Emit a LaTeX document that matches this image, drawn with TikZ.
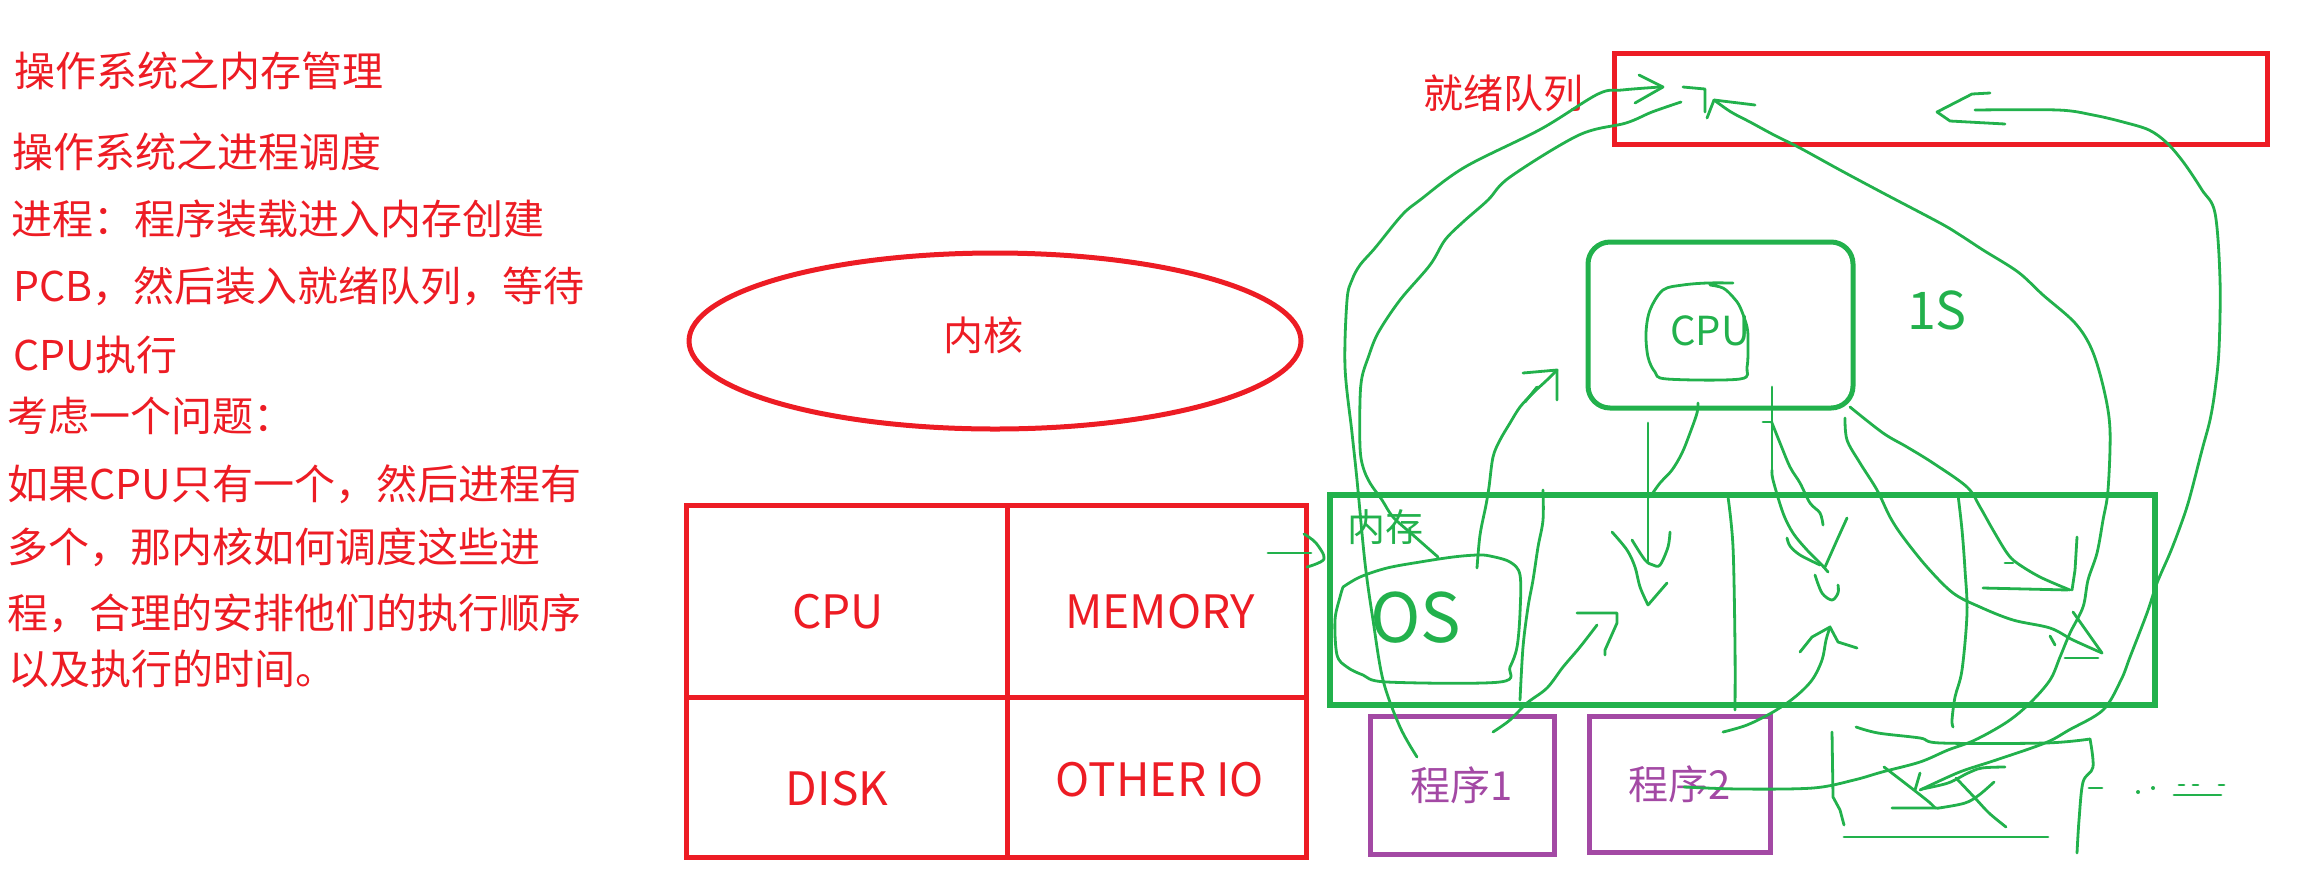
\documentclass[tikz,border=0pt]{standalone}
\usepackage{fontspec}
\setmainfont{Noto Sans CJK SC}
\usetikzlibrary{shapes.geometric, positioning}

\definecolor{pRed}{HTML}{ED1C24}
\definecolor{pGreen}{HTML}{22B14C}
\definecolor{pPurple}{HTML}{A349A4}

\begin{document}
\begin{tikzpicture}[x=0.5pt, y=-0.5pt,
  note/.style={anchor=west, inner sep=0pt, text=pRed, text height=18pt, text depth=2.5pt,
    font=\fontsize{20.5}{24}\selectfont},
  redbox/.style={draw=pRed, line width=2.5pt, inner sep=0pt},
  redtxt/.style={text=pRed, inner sep=0pt, font=\fontsize{23}{26}\selectfont},
  greenbox/.style={draw=pGreen, line width=3pt, inner sep=0pt},
  progbox/.style={draw=pPurple, line width=2.5pt, inner sep=0pt, text=pPurple, font=\fontsize{20}{24}\selectfont},
  greentxt/.style={text=pGreen, inner sep=0pt},
  scribble/.style={draw=pGreen, line width=1.4pt, line cap=round, line join=round},
  sketch/.style={smooth, tension=0.55}]

\useasboundingbox (0,0) rectangle (2322,885);

% notes on the left
\node[note] (n1) at (14,71) {操作系统之内存管理};
\node[note] (n2) at (12,152) {操作系统之进程调度};
\node[note] (n3) at (11,219) {进程：程序装载进入内存创建};
\node[note] (n4) at (13,286) {PCB，然后装入就绪队列，等待};
\node[note] (n5) at (13,355) {CPU执行};
\node[note] (n6) at (7,416) {考虑一个问题：};
\node[note] (n7) at (7,484) {如果CPU只有一个，然后进程有};
\node[note] (n8) at (7,547) {多个，那内核如何调度这些进};
\node[note] (n9) at (7,613) {程，合理的安排他们的执行顺序};
\node[note] (n10) at (8,669) {以及执行的时间。};

% kernel and hardware
\node[ellipse, draw=pRed, line width=2.5pt, minimum width=306pt, minimum height=88pt] (kernel) at (995,341) {};
\node[text=pRed, inner sep=0pt, font=\fontsize{20}{24}\selectfont] (kernelTag) at (983,335) {内核};

\node[redbox, minimum width=160.5pt, minimum height=96pt] (hwcpu) at (846.5,601) {};
\node[redbox, minimum width=149.5pt, minimum height=96pt] (hwmem) at (1156.5,601) {};
\node[redbox, minimum width=160.5pt, minimum height=80pt] (hwdisk) at (846.5,777) {};
\node[redbox, minimum width=149.5pt, minimum height=80pt] (hwio) at (1156.5,777) {};
\node[redtxt] (hwcpuTag) at (838,612) {CPU};
\node[redtxt] (hwmemTag) at (1160,612) {MEMORY};
\node[redtxt] (hwdiskTag) at (837,789) {DISK};
\node[redtxt] (hwioTag) at (1160,780) {OTHER IO};

% ready queue, cpu, memory, programs
\node[draw=pRed, line width=2.5pt, minimum width=326.5pt, minimum height=45.5pt] (ready) at (1940.5,98.5) {};
\node[text=pRed, inner sep=0pt, font=\fontsize{20}{24}\selectfont, left=14pt of ready, yshift=2.75pt] (readyTag) {就绪队列};

\node[greenbox, line width=2.5pt, rounded corners=11pt, minimum width=132.5pt, minimum height=83pt] (cpuBox) at (1720.5,325) {};
\node[greentxt, font=\fontsize{20}{24}\selectfont] (cpuTag) at (1710,331) {CPU};
\node[greentxt, font=\fontsize{26}{30}\selectfont] (sliceTag) at (1937,310) {1S};

\node[greenbox, minimum width=412.5pt, minimum height=105pt] (mem) at (1742.5,600) {};
\node[greentxt, font=\fontsize{19}{22}\selectfont] (memTag) at (1385,527) {内存};
\node[greentxt, font=\fontsize{34}{38}\selectfont] (osTag) at (1416,618) {OS};

\node[progbox, minimum width=92pt, minimum height=69pt] (prog1) at (1462,785) {程序1};
\node[progbox, minimum width=90.5pt, minimum height=68pt] (prog2) at (1679.5,784) {程序2};

% hand strokes
\draw[scribble] plot[sketch] coordinates {(1733,283) (1707,283) (1683,285) (1663,290) (1650,310) (1646,333) (1648,357) (1655,372) (1667,379) (1740,379) (1747,367) (1748,343) (1747,327) (1740,307) (1733,297) (1723,288) (1710,285)};
\draw[scribble] plot[sketch] coordinates {(1343,587) (1360,577) (1387,568) (1420,562) (1453,557) (1477,555) (1490,556) (1510,562) (1520,575) (1520,613) (1517,647) (1510,667) (1500,682) (1387,682) (1363,675) (1347,667) (1337,655) (1335,620) (1340,597) (1343,587)};

\draw[scribble] (1268,553) -- (1311,553);
\draw[scribble] plot[sketch] coordinates {(1304,534) (1316,543) (1324,559) (1307,567)};

\draw[scribble] plot[sketch] coordinates {(1543,490) (1543,520) (1538,547) (1533,580) (1528,607) (1523,647) (1520,700)};
\draw[scribble] plot[sketch] coordinates {(1728,497) (1733,547) (1735,647) (1735,710)};
\draw[scribble] plot[sketch] coordinates {(1958,495) (1962,530) (1965,570) (1967,613) (1962,670) (1955,697) (1952,720) (1953,727)};

\draw[scribble] plot[sketch] coordinates {(1417,757) (1400,727) (1383,680) (1373,620) (1365,563) (1357,480) (1352,433) (1345,367) (1347,300) (1352,280) (1360,265) (1375,248) (1402,215) (1420,200) (1465,167) (1541,129) (1598,94) (1622,90) (1660,87)};
\draw[scribble] (1639,75) -- (1663,87) -- (1635,103);

\draw[scribble] plot[sketch] coordinates {(1438,557) (1413,535) (1393,517) (1382,500) (1370,483) (1363,467) (1360,447) (1360,400) (1362,377) (1368,358) (1378,333) (1400,300) (1430,265) (1445,240) (1463,222) (1488,200) (1510,177) (1579,135) (1626,123) (1652,112) (1681,102)};
\draw[scribble] (1683,87) -- (1705,89) -- (1705,112);

\draw[scribble] plot[sketch] coordinates {(1684,787) (1740,789) (1813,788) (1854,780) (1882,772) (1920,762) (1948,750) (1975,740) (2007,722) (2030,703) (2050,680) (2060,657) (2070,633) (2083,607) (2088,580) (2097,553) (2103,520) (2108,490) (2110,430) (2104,390) (2092,350) (2075,323) (2043,295) (2018,272) (1983,250) (1960,235) (1940,223) (1883,193) (1840,170) (1800,148) (1774,135) (1750,122) (1731,112) (1714,100)};
\draw[scribble] (1707,118) -- (1714,100) -- (1755,105);

\draw[scribble] plot[sketch] coordinates {(1920,790) (1948,777) (1965,770) (1996,760) (2045,743) (2069,730) (2103,710) (2121,680) (2130,657) (2147,613) (2157,583) (2170,553) (2180,527) (2189,500) (2202,450) (2210,420) (2215,390) (2219,349) (2220,280) (2215,213) (2202,190) (2184,163) (2167,143) (2149,130) (2123,122) (2093,115) (2058,110) (1975,110)};
\draw[scribble] (1990,93) -- (1972,94) -- (1937,112) -- (1950,121) -- (2005,124);

\draw[scribble] plot[sketch] coordinates {(1850,407) (1883,433) (1907,447) (1933,463) (1967,487) (1980,507) (1993,530) (2007,553) (2017,563) (2040,577) (2070,590)};
\draw[scribble] (2077,537) -- (2075,570) -- (2072,590);
\draw[scribble] (1983,588) -- (2068,590);
\draw[scribble] (2005,563) -- (2013,563);

\draw[scribble] plot[sketch] coordinates {(1845,418) (1847,440) (1860,463) (1877,490) (1890,517) (1903,537) (1927,567) (1953,593) (1980,607) (2013,620) (2050,628) (2073,640) (2102,653)};
\draw[scribble] (2073,612) -- (2102,653);
\draw[scribble] (2065,658) -- (2098,658);
\draw[scribble] (2050,636) -- (2055,645);

\draw[scribble] (1772,387) -- (1772,470);
\draw[scribble] plot[sketch] coordinates {(1772,470) (1773,480) (1783,513) (1793,533) (1807,550) (1820,563) (1828,572)};
\draw[scribble] plot[sketch] coordinates {(1787,538) (1790,546) (1800,555) (1820,565)};
\draw[scribble] (1847,518) -- (1837,540) -- (1825,567);
\draw[scribble] (1763,422) -- (1772,422);
\draw[scribble] plot[sketch] coordinates {(1772,423) (1780,443) (1790,467) (1800,483) (1810,503) (1820,513) (1823,525)};
\draw[scribble] plot[sketch] coordinates {(1815,575) (1822,593) (1832,600) (1838,593) (1838,585)};

\draw[scribble] plot[sketch] coordinates {(1723,732) (1747,725) (1773,712) (1795,697) (1812,680) (1822,660) (1826,640) (1830,627)};
\draw[scribble] (1800,652) -- (1812,637) -- (1830,627) -- (1838,642) -- (1857,648);

\draw[scribble] plot[sketch] coordinates {(1493,732) (1510,720) (1527,703) (1547,688) (1563,667) (1580,647) (1597,625)};
\draw[scribble] (1577,613) -- (1617,613) -- (1617,623) -- (1605,650) -- (1605,655);

\draw[scribble] plot[sketch] coordinates {(1477,568) (1480,535) (1486,505) (1489,487) (1493,457) (1500,440) (1510,423) (1520,407) (1533,393) (1547,380) (1557,370)};
\draw[scribble] (1523,373) -- (1557,370) -- (1557,400);
\draw[scribble] (1525,402) -- (1537,387);

\draw[scribble] (1648,423) -- (1648,563);
\draw[scribble] plot[sketch] coordinates {(1632,540) (1645,560) (1653,565) (1660,565) (1668,547) (1670,532)};
\draw[scribble] plot[sketch] coordinates {(1698,403) (1697,413) (1690,433) (1682,453) (1672,470) (1660,483) (1650,497)};
\draw[scribble] plot[sketch] coordinates {(1612,532) (1627,550) (1635,567) (1640,587) (1648,605)};
\draw[scribble] (1667,583) -- (1648,605);

% scribbles below memory
\draw[scribble] plot[sketch] coordinates {(1856,727) (1878,733) (1920,738) (1941,743) (2045,743) (2090,739)};
\draw[scribble] plot[sketch] coordinates {(2090,739) (2093,767) (2083,782) (2079,820) (2077,853)};
\draw[scribble] (1832,732) -- (1833,797) -- (1840,810) -- (1844,825);
\draw[scribble] (1844,837) -- (2048,837);
\draw[scribble] plot[sketch] coordinates {(1892,808) (1934,808) (1939,808) (1965,803) (1979,795) (1994,782)};
\draw[scribble] plot[sketch] coordinates {(1884,767) (1910,787) (1929,802) (1935,808)};
\draw[scribble] (1920,773) -- (1915,790);
\draw[scribble] plot[sketch] coordinates {(1956,778) (1975,798) (1989,813) (2006,827)};
\draw[scribble] plot[sketch] coordinates {(1922,789) (1948,783) (1968,773) (1982,768) (2005,767)};
\draw[scribble] (2089,788) -- (2102,788);
\fill[pGreen] (2138,792) circle (1pt) (2153,788) circle (1pt);
\draw[scribble] (2174,795) -- (2221,795);
\draw[scribble] (2179,785) -- (2184,785) (2193,785) -- (2198,785) (2219,785) -- (2224,785);
\end{tikzpicture}
\end{document}
